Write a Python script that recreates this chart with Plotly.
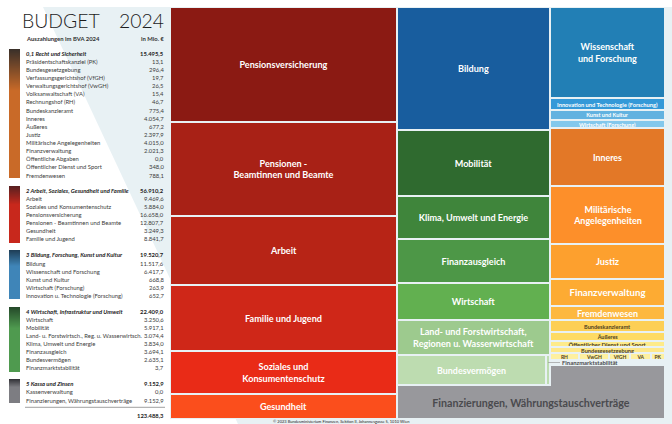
import plotly.graph_objects as go

W, H = 672, 424
FONT = "Lato"
BG = "#e8f1f4"

# ---------- table data ----------
sec1_labels = ["0,1 Recht und Sicherheit", "Präsidentschaftskanzlei (PK)", "Bundesgesetzgebung",
               "Verfassungsgerichtshof (VfGH)", "Verwaltungsgerichtshof (VwGH)", "Volksanwaltschaft (VA)",
               "Rechnungshof (RH)", "Bundeskanzleramt", "Inneres", "Äußeres", "Justiz",
               "Militärische Angelegenheiten", "Finanzverwaltung", "Öffentliche Abgaben",
               "Öffentlicher Dienst und Sport", "Fremdenwesen"]
sec1_values = ["15.495,5", "13,1", "296,4", "19,7", "26,5", "15,4", "46,7", "775,4", "4.054,7", "677,2",
               "2.397,9", "4.015,0", "2.021,3", "0,0", "348,0", "788,1"]
sec2_labels = ["2 Arbeit, Soziales, Gesundheit und Familie", "Arbeit", "Soziales und Konsumentenschutz",
               "Pensionsversicherung", "Pensionen - Beamtinnen und Beamte", "Gesundheit", "Familie und Jugend"]
sec2_values = ["56.910,2", "9.469,6", "5.884,0", "16.658,0", "12.807,7", "3.249,3", "8.841,7"]
sec3_labels = ["3 Bildung, Forschung, Kunst und Kultur", "Bildung", "Wissenschaft und Forschung",
               "Kunst und Kultur", "Wirtschaft (Forschung)", "Innovation u. Technologie (Forschung)"]
sec3_values = ["19.520,7", "11.517,6", "6.417,7", "668,8", "263,9", "652,7"]
sec4_labels = ["4 Wirtschaft, Infrastruktur und Umwelt", "Wirtschaft", "Mobilität",
               "Land- u. Forstwirtsch., Reg. u. Wasserwirtsch.", "Klima, Umwelt und Energie",
               "Finanzausgleich", "Bundesvermögen", "Finanzmarktstabilität"]
sec4_values = ["22.409,0", "3.250,6", "5.917,1", "3.074,4", "3.834,0", "3.694,1", "2.635,1", "3,7"]
sec5_labels = ["5 Kassa und Zinsen", "Kassenverwaltung", "Finanzierungen, Währungstauschverträge"]
sec5_values = ["9.152,9", "0,0", "9.152,9"]
total_value = "123.488,3"

# ---------- treemap data: sizes as drawn in the picture (Mio. EUR) ----------
col1_names = ["Pensionsversicherung", "Pensionen -<br>Beamtinnen und Beamte", "Arbeit", "Familie und Jugend",
              "Soziales und<br>Konsumentenschutz", "Gesundheit"]
col1_values = [15950, 12915, 9600, 9117, 5870, 3458]
col1_colors = ["#8b1a13", "#a82116", "#b72416", "#cf2718", "#e92b17", "#fb4e1c"]

col2_names = ["Bildung", "Mobilität", "Klima, Umwelt und Energie", "Finanzausgleich", "Wirtschaft",
              "Land- und Forstwirtschaft,<br>Regionen u. Wasserwirtschaft"]
col2_values = [11356, 6118, 3986, 4079, 3476, 3244]
col2_colors = ["#185d9e", "#2f6a2f", "#3f853b", "#4d9747", "#62b050", "#9dca8e"]

row2_names = ["Bundesvermögen", ""]
row2_values = [2635.1, 66]
row2_colors = ["#bddcb0", "#bddcb0"]

col3_names = ["Wissenschaft<br>und Forschung", "Innovation und Technologie (Forschung)", "Kunst und Kultur",
              "Wirtschaft (Forschung)", "Inneres", "Militärische<br>Angelegenheiten", "Justiz",
              "Finanzverwaltung", "Fremdenwesen", "Bundeskanzleramt", "Äußeres",
              "Öffentlicher Dienst und Sport", "Bundesgesetzgebung"]
col3_values = [6250, 850, 670, 560, 4060, 3990, 2390, 1900, 930, 810, 620, 450, 410]
col3_colors = ["#227fb5", "#3499d8", "#62b2e0", "#83c8ec", "#e37827", "#fd8f2a", "#fda02e", "#fdab33",
               "#fdb840", "#fdcf55", "#fedb65", "#feeb8a", "#fee88a"]
col3_sizes = [9, 5.7, 5.5, 5.6, 8.8, 9, 9.2, 9.6, 9, 5.6, 5.4, 5.9, 5.6]

row3_names = ["RH", "VwGH", "VfGH", "VA", "PK"]
row3_values = [29, 29, 21, 21, 14]

fin_names = ["", "Finanzierungen, Währungstauschverträge"]
fin_values = [1920, 7232.9]


def dom_x(a, b):
    return [a / W, b / W]


def dom_y(top, bottom):
    return [1 - bottom / H, 1 - top / H]


fig = go.Figure()
layout = {}
axis_n = 0


def new_axes(x0, x1, y0, y1, xrange, yrange):
    global axis_n
    axis_n += 1
    sx = "" if axis_n == 1 else str(axis_n)
    layout["xaxis" + sx] = dict(domain=dom_x(x0, x1), range=xrange, visible=False, fixedrange=True,
                                anchor="y" + sx)
    layout["yaxis" + sx] = dict(domain=dom_y(y0, y1), range=yrange, visible=False, fixedrange=True,
                                anchor="x" + sx)
    return "x" + sx, "y" + sx


def vstack(names, values, colors, box, sizes=None, line=2, size=9.1):
    xa, ya = new_axes(*box, [-0.5, 0.5], [sum(values), 0])
    for i, (n, v, c) in enumerate(zip(names, values, colors)):
        s = sizes[i] if sizes else size
        dark = c in ("#fdcf55", "#fedb65", "#feeb8a", "#fee88a")
        fig.add_bar(x=[0], y=[v], xaxis=xa, yaxis=ya, text=[n], textposition="inside", textangle=0,
                    insidetextanchor="middle", constraintext="none",
                    textfont=dict(family=FONT, size=s, weight=700, color="#4d4020" if dark else "white"),
                    marker=dict(color=c, line=dict(color=BG, width=line)), showlegend=False, hoverinfo="skip")


def hstack(names, values, colors, box, size=6, tcolor="#4d4020", line=2):
    xa, ya = new_axes(*box, [0, sum(values)], [-0.5, 0.5])
    for n, v, c in zip(names, values, colors):
        fig.add_bar(y=[0], x=[v], orientation="h", xaxis=xa, yaxis=ya, text=[n], textposition="inside",
                    textangle=0, insidetextanchor="middle", constraintext="none",
                    textfont=dict(family=FONT, size=size, weight=700, color=tcolor),
                    marker=dict(color=c, line=dict(color=BG, width=line)), showlegend=False, hoverinfo="skip")


# gradient side bars share one pixel-scaled axes
gx, gy = new_axes(0, W, 0, H, [0, W], [H, 0])
grad_boxes = [(49, 178), (186, 243), (250, 299), (307, 372), (379, 403)]
grad_cols = [("#3a3029", "#c96a28"), ("#5a2020", "#c8281c"), ("#1f3f58", "#3f85b8"),
             ("#254a2a", "#4f9a4f"), ("#35353a", "#7d7d82")]
for (t, b), (c0, c1) in zip(grad_boxes, grad_cols):
    edges = list(range(t, b + 1))
    shade = [[min(1.0, (e - t) / ((b - t) * 0.32))] for e in edges[:-1]]
    fig.add_heatmap(x=[9, 20], y=edges, z=shade, xaxis=gx, yaxis=gy, colorscale=[[0, c0], [1, c1]],
                    showscale=False, hoverinfo="skip", zmin=0, zmax=1)

vstack(col1_names, col1_values, col1_colors, (170, 397, 7, 419))
vstack(col2_names, col2_values, col2_colors, (397, 550, 7, 355))
hstack(row2_names, row2_values, row2_colors, (397, 550, 355, 385), size=8.9, tcolor="white")
vstack(col3_names, col3_values, col3_colors, (550, 665, 7, 353), sizes=col3_sizes)
hstack(row3_names, row3_values, ["#fef0a0"] * 5, (550, 665, 353, 360), size=5)
# Finanzierungen: two parts of one L-shaped cell
vstack(fin_names[:1], fin_values[:1], ["#98989c"], (551, 664, 366, 386), line=0)
fx, fy = new_axes(398, 664, 386, 418, [-0.5, 0.5], [fin_values[1], 0])
fig.add_bar(x=[0], y=[fin_values[1]], xaxis=fx, yaxis=fy, text=[fin_names[1]], textposition="inside",
            textangle=0, insidetextanchor="middle", constraintext="none",
            textfont=dict(family=FONT, size=10.7, weight=700, color="#4a4a4e"),
            marker=dict(color="#98989c", line=dict(width=0)), showlegend=False, hoverinfo="skip")

ann = []


def T(x, y, s, size=5.85, anchor="left", color="#3c3c3c", **f):
    ann.append(dict(x=x / W, y=1 - y / H, xref="paper", yref="paper", text=s, showarrow=False, xanchor=anchor,
                    yanchor="middle", align=anchor, borderpad=0,
                    font=dict(family=FONT, size=size, color=color, **f)))


sections = [(sec1_labels, sec1_values, 53.3, 8.115), (sec2_labels, sec2_values, 190.7, 8.0),
            (sec3_labels, sec3_values, 255, 8.06), (sec4_labels, sec4_values, 311.3, 8.06),
            (sec5_labels, sec5_values, 383.7, 8.15)]
for labs, vals, y0, dy in sections:
    for i, (l, v) in enumerate(zip(labs, vals)):
        y = y0 + i * dy
        if i == 0:
            T(24.5, y, "<i><b>" + l + "</b></i>", color="#222")
            T(165, y, "<b>" + v + "</b>", anchor="right", color="#222")
        else:
            T(24.5, y, l)
            T(165, y, v, anchor="right")
T(165, 415, "<b>" + total_value + "</b>", anchor="right", color="#222")
T(20.5, 20.5, "BUDGET", size=19.4, color="#1c1c1c", weight=300)
T(165, 20.5, "2024", size=19.4, anchor="right", color="#1c1c1c", weight=300)
T(24.5, 38, "<b>Auszahlungen im BVA 2024</b>", size=5.9, color="#333")
T(165, 38, "<b>in Mio. €</b>", size=5.9, anchor="right", color="#333")
T(561, 362.5, "<b>Finanzmarktstabilität</b>", size=5.9, color="#4a4a4e")
T(340.5, 421.3, "© 2023 Bundesministerium Finanzen, Sektion II, Johannesgasse 5, 1010 Wien", size=4,
  anchor="center", color="#222")

shapes = [
    dict(type="path", xref="paper", yref="paper", layer="below", line=dict(width=0), fillcolor=BG,
         path="M {} {} L {} {} L {} {} L {} {} Z".format(43 / W, 1 - 7 / H, 1, 1 - 7 / H, 1, 0, 238 / W, 0)),
    dict(type="line", xref="paper", yref="paper", x0=25 / W, x1=165 / W, y0=1 - 407.3 / H, y1=1 - 407.3 / H,
         line=dict(color="#777", width=0.7)),
    dict(type="line", xref="paper", yref="paper", x0=548 / W, x1=560 / W, y0=1 - 362.5 / H, y1=1 - 362.5 / H,
         line=dict(color="#999", width=0.7)),
]

fig.update_layout(width=W, height=H, margin=dict(l=0, r=0, t=0, b=0), paper_bgcolor="white",
                  plot_bgcolor="rgba(0,0,0,0)", barmode="stack", bargap=0, showlegend=False,
                  annotations=ann, shapes=shapes, font=dict(family=FONT), **layout)
fig.write_html("out.html", config=dict(displayModeBar=False),
               post_script="document.body.style.margin='0';")
